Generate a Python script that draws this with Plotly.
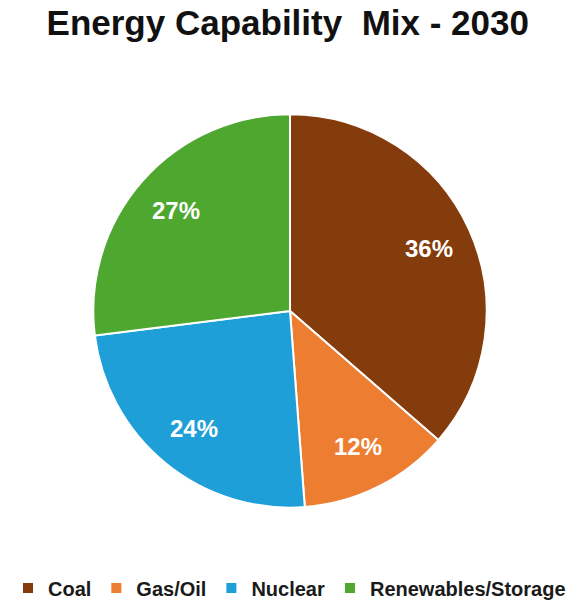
import math
import plotly.graph_objects as go

labels = ["Coal", "Gas/Oil", "Nuclear", "Renewables/Storage"]
values = [36.4, 12.4, 24.2, 27.0]
colors = ["#843C0C", "#ED7D31", "#1E9FD8", "#4EA72E"]

W, H = 579, 608
cx, cy, r = 290, 313, 198
label_frac = 0.77

fig = go.Figure(go.Pie(
    labels=labels, values=values, sort=False, direction="clockwise", rotation=0,
    marker=dict(colors=colors, line=dict(color="white", width=2)),
    textinfo="none",
    hoverinfo="label+percent",
    domain=dict(x=[(cx - r) / W, (cx + r) / W], y=[(H - cy - r) / H, (H - cy + r) / H]),
))

# data labels placed along each slice's mid-angle (derived from the values)
total = sum(values)
cum = 0.0
for v in values:
    mid = (cum + v / 2) / total * 2 * math.pi
    cum += v
    px = cx + label_frac * r * math.sin(mid)
    py = cy - label_frac * r * math.cos(mid)
    fig.add_annotation(x=px / W, y=(H - py) / H, xref="paper", yref="paper",
                       xanchor="center", yanchor="middle",
                       text=f"{round(v / total * 100)}%", showarrow=False,
                       font=dict(family="Liberation Sans", size=24, color="white", weight="bold"))

fig.update_layout(
    width=W, height=H, margin=dict(l=0, r=0, t=0, b=0),
    paper_bgcolor="white", plot_bgcolor="white",
    title=dict(text="Energy Capability  Mix - 2030", x=0.497, xanchor="center", y=1 - 23 / H, yanchor="middle",
               font=dict(family="Liberation Sans", size=35, color="#111111", weight="bold")),
    legend=dict(orientation="h", x=0.5, xanchor="center", y=(H - 592) / H, yanchor="middle",
                font=dict(family="Liberation Sans", size=20, color="#1a1a1a", weight="bold"),
                itemwidth=30, traceorder="normal"),
)

fig.write_html("out.html")
